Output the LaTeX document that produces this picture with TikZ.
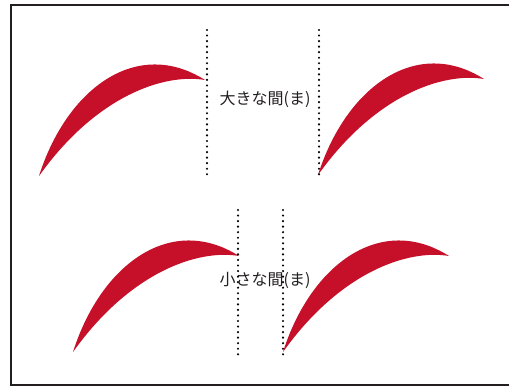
\documentclass[tikz,border=0pt]{standalone}
\usepackage{fontspec}
\newfontfamily\jpfont{Noto Sans CJK JP}
\definecolor{browred}{RGB}{198,16,42}
\definecolor{inkdark}{RGB}{35,31,32}
\tikzset{
  brow/.style={fill=browred, draw=none},
  dotline/.style={draw=black, line width=2.4pt, line cap=round, dash pattern=on 0pt off 5.55pt},
  gaplabel/.style={font=\jpfont\fontsize{16pt}{18pt}\selectfont, text=inkdark, inner sep=0pt},
  frameline/.style={draw=inkdark, line width=2.4pt}
}
\newcommand{\browshape}{%
  (0,0) .. controls (28,-88) and (98,-139) .. (166,-96)
        .. controls (125,-103) and (57,-80) .. (0,0) -- cycle}
\begin{document}
\begin{tikzpicture}[x=1pt,y=-1pt]
\useasboundingbox (0,0) rectangle (509,387);
\fill[white] (0,0) rectangle (509,387);
% frame (right side lies outside the picture)
\coordinate (ftr) at (512,5);
\coordinate (ftl) at (11,5);
\coordinate (fbl) at (11,385);
\coordinate (fbr) at (512,385);
\draw[frameline] (ftr) -- (ftl) -- (fbl) -- (fbr);
% brows
\fill[brow, shift={(39,176)}] \browshape;
\fill[brow, shift={(318,175)}] \browshape;
\fill[brow, shift={(73,352)}] \browshape;
\fill[brow, shift={(283,352)}] \browshape;
% dotted guides
\coordinate (a1) at (207,30);
\coordinate (a2) at (207,178);
\coordinate (b1) at (319,30);
\coordinate (b2) at (319,178);
\coordinate (c1) at (238,210);
\coordinate (c2) at (238,358);
\coordinate (d1) at (283,210);
\coordinate (d2) at (283,358);
\draw[dotline] (a1) -- (a2);
\draw[dotline] (b1) -- (b2);
\draw[dotline] (c1) -- (c2);
\draw[dotline] (d1) -- (d2);
% labels
\node[gaplabel] (big) at (265,99) {大きな間(ま)};
\node[gaplabel] (small) at (265,280) {小さな間(ま)};
\end{tikzpicture}
\end{document}
